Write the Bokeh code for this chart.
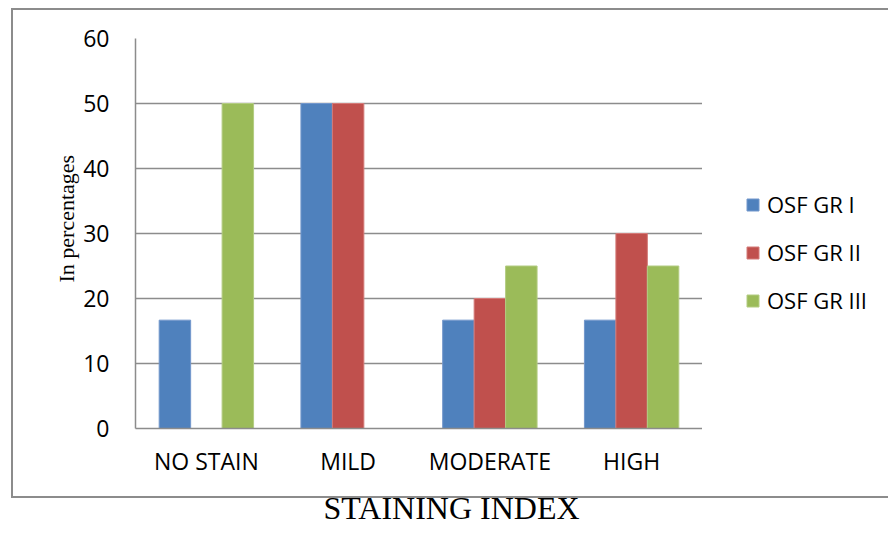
from bokeh.plotting import figure
from bokeh.layouts import row
from bokeh.models import (ColumnDataSource, FixedTicker, Legend, LegendItem,
                          Title, InlineStyleSheet)
from bokeh.transform import dodge
from bokeh.embed import file_html
from bokeh.resources import INLINE

# Staining index per OSF grade (percent of cases)
categories = ["NO STAIN", "MILD", "MODERATE", "HIGH"]
series_names = ["OSF GR I", "OSF GR II", "OSF GR III"]
gr1 = [16.67, 50, 16.67, 16.67]
gr2 = [0, 50, 20, 30]
gr3 = [50, 0, 25, 25]
y_ticks = [0, 10, 20, 30, 40, 50, 60]

fills = ["#4F81BD", "#C0504D", "#9BBB59"]
edges = ["#7397cc", "#d47a78", "#b3cc82"]
cols = ["gr1", "gr2", "gr3"]

source = ColumnDataSource(dict(cat=categories, gr1=gr1, gr2=gr2, gr3=gr3))

CANVAS_H = 533
FRAME_BOTTOM = 431

# ---- main bar chart ----
p = figure(
    x_range=categories, y_range=(0, 60),
    width=702, height=CANVAS_H,
    output_backend="svg", toolbar_location=None,
    min_border_left=135, min_border_right=0,
    min_border_top=38, min_border_bottom=CANVAS_H - FRAME_BOTTOM,
)
p.x_range.range_padding = 0
p.outline_line_color = None
p.background_fill_color = "white"
p.border_fill_color = "white"

bar_w = 0.222
for i, col in enumerate(cols):
    p.vbar(
        x=dodge("cat", (i - 1) * bar_w, range=p.x_range), top=col, width=bar_w,
        source=source, fill_color=fills[i], line_color=edges[i], line_width=1,
    )

p.xgrid.grid_line_color = None
p.ygrid.grid_line_color = "#8c8c8c"
p.ygrid.grid_line_width = 1.5
p.yaxis.ticker = FixedTicker(ticks=y_ticks)

for ax in (p.xaxis[0], p.yaxis[0]):
    ax.axis_line_color = "#8c8c8c"
    ax.axis_line_width = 1.5
    ax.major_tick_line_color = None
    ax.minor_tick_line_color = None
    ax.major_tick_out = 0
    ax.major_tick_in = 0
    ax.major_label_text_font = "Open Sans"
    ax.major_label_text_font_size = "23px"
    ax.major_label_text_color = "black"

p.yaxis.major_label_standoff = 26
p.xaxis.major_label_standoff = 16

p.add_layout(Title(
    text="In percentages", align="left", offset=146, standoff=4,
    text_font="Liberation Serif", text_font_style="normal",
    text_font_size="22px", text_color="black",
), "left")
p.add_layout(Title(
    text="STAINING INDEX", align="left", offset=188, standoff=16,
    text_font="Liberation Serif", text_font_style="normal",
    text_font_size="32px", text_color="black",
), "below")

# ---- legend panel (hidden bars, only their swatches show) ----
leg = figure(
    width=186, height=CANVAS_H, x_range=categories, y_range=(0, 60),
    x_axis_type=None, y_axis_type=None,
    output_backend="svg", toolbar_location=None,
    min_border_left=0, min_border_right=0,
    min_border_top=38, min_border_bottom=CANVAS_H - FRAME_BOTTOM,
)
leg.outline_line_color = None
leg.xgrid.visible = False
leg.ygrid.visible = False
leg.background_fill_color = "white"
leg.border_fill_color = "white"
swatches = [
    leg.vbar(x="cat", top=col, width=0.2, source=source, visible=False,
             fill_color=fills[i], line_color=edges[i], line_width=1)
    for i, col in enumerate(cols)
]
legend = Legend(
    items=[LegendItem(label=n, renderers=[r]) for n, r in zip(series_names, swatches)],
    location=(43, 113), orientation="vertical",
    border_line_color=None, background_fill_alpha=0,
    inactive_fill_alpha=0,
    padding=0, margin=0, glyph_width=15, glyph_height=15,
    label_standoff=7, spacing=18, label_height=30,
    label_text_font="Open Sans", label_text_font_size="22px",
    label_text_color="black",
)
leg.add_layout(legend)

layout = row(p, leg, spacing=0)

# outer chart border (left, top and bottom edges)
layout.stylesheets = [InlineStyleSheet(css="""
:host { position: relative; }
:host::after {
  content: ""; position: absolute; left: 11px; top: 8px;
  width: 877px; height: 490px; box-sizing: border-box;
  border: 2px solid #8c8c8c; border-right: none;
  pointer-events: none; z-index: 10;
}
""")]

open("out.html", "w").write(file_html(layout, INLINE))
